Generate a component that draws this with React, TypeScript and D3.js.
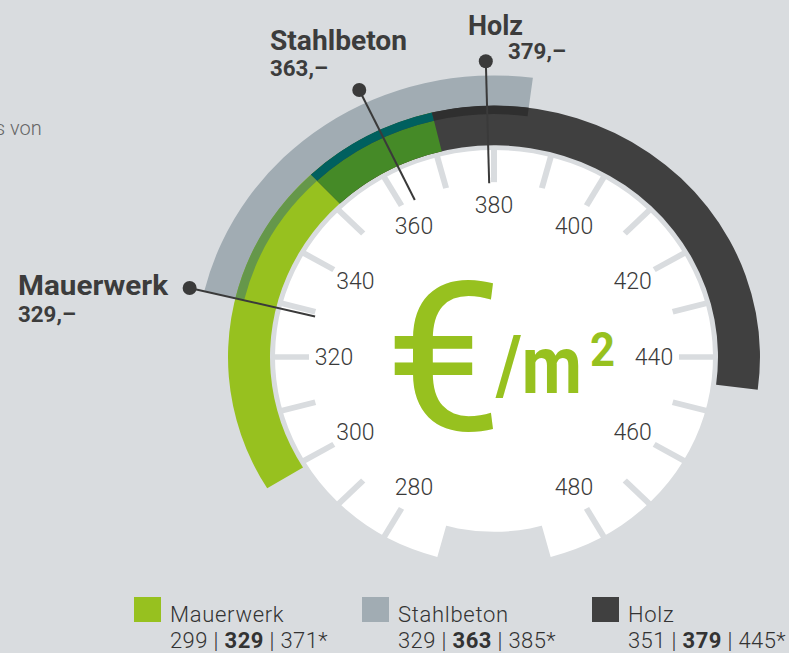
import React, { useEffect } from 'react'
import * as d3 from 'd3'

// values per building material (€/m²): low | mean | high
const materials = ['Mauerwerk', 'Stahlbeton', 'Holz']
const lowValues = [299, 329, 351]
const meanValues = [329, 363, 379]
const highValues = [371, 385, 445]
const meanLabels = ['329,–', '363,–', '379,–']
const tickValues = [280, 290, 300, 310, 320, 330, 340, 350, 360, 370, 380, 390, 400, 410, 420, 430, 440, 450, 460, 470, 480]
const tickLabels = [280, 300, 320, 340, 360, 380, 400, 420, 440, 460, 480]

const colors = {
  bg: '#d9dcdf',
  Mauerwerk: '#97c11f',
  Stahlbeton: '#a1acb3',
  Holz: '#404040',
  'Mauerwerk+Stahlbeton': '#65974a',
  'Mauerwerk+Holz': '#458a27',
  'Mauerwerk+Stahlbeton+Holz': '#00605f',
  'Stahlbeton+Holz': '#2f2f2f',
}

const W = 789
const H = 653
const cx = 494
const cy = 357
const sy = 0.945 // picture is slightly squashed vertically

// band radii: Mauerwerk + Holz share the inner band, Stahlbeton sits further out
const bandRadii = [[224, 266], [257, 298], [224, 266]]
const drawOrder = [1, 0, 2]
const diskR = 219
const tickInner = 185

const labelPos = [
  { x: 18, y: 295, w: 150, x2: 18, y2: 322, w2: 58 },
  { x: 270, y: 50, w: 137, x2: 270, y2: 76, w2: 58 },
  { x: 468, y: 35, w: 55, x2: 508, y2: 59, w2: 58 },
]
const legendX = [134, 362, 592]

const angle = d3.scaleLinear().domain([280, 480]).range([-150 * Math.PI / 180, 150 * Math.PI / 180])
const pt = (v: number, r: number) => [cx + r * Math.sin(angle(v)), cy - r * Math.cos(angle(v)) * sy]

export default function App() {
  useEffect(() => {
    document.body.style.margin = '0'
    document.body.style.background = colors.bg
  }, [])

  const arc = d3.arc<any>()

  // overlapping parts of the bands get their own colour
  const edges = Array.from(new Set([...lowValues, ...highValues])).sort((a, b) => a - b)
  const radiiEdges = Array.from(new Set(bandRadii.flat())).sort((a, b) => a - b)
  const pieces: any[] = []
  for (let i = 0; i < edges.length - 1; i++) {
    for (let j = 0; j < radiiEdges.length - 1; j++) {
      const v0 = edges[i], v1 = edges[i + 1], r0 = radiiEdges[j], r1 = radiiEdges[j + 1]
      const hit = materials.filter((m, k) =>
        lowValues[k] <= v0 && highValues[k] >= v1 && bandRadii[k][0] <= r0 && bandRadii[k][1] >= r1)
      if (hit.length < 2) continue
      pieces.push({ v0, v1, r0, r1, color: (colors as any)[hit.join('+')] })
    }
  }

  const font = 'Roboto, "DejaVu Sans", sans-serif'

  return (
    <svg width={W} height={H} style={{ position: 'absolute', left: 0, top: 0, display: 'block' }} fontFamily={font}>
      <rect width={W} height={H} fill={colors.bg} />
      <text x={-5} y={135} fontSize={20} fontWeight={300} fill="#666">s von</text>

      <g transform={`translate(${cx},${cy}) scale(1,${sy})`}>
        {drawOrder.map(k => (
          <path key={materials[k]} fill={(colors as any)[materials[k]]}
            d={arc({ innerRadius: bandRadii[k][0], outerRadius: bandRadii[k][1], startAngle: angle(lowValues[k]), endAngle: angle(highValues[k]) }) as string} />
        ))}
        {pieces.map((p, i) => (
          <path key={i} fill={p.color}
            d={arc({ innerRadius: p.r0, outerRadius: p.r1, startAngle: angle(p.v0), endAngle: angle(p.v1) }) as string} />
        ))}
        <circle r={tickInner} fill="#fff" />
        <path fill="#fff" d={arc({ innerRadius: tickInner - 1, outerRadius: diskR, startAngle: angle(270), endAngle: angle(490) }) as string} />
        {tickValues.map(v => (
          <line key={v} stroke={colors.bg} strokeWidth={6}
            x1={tickInner * Math.sin(angle(v))} y1={-tickInner * Math.cos(angle(v))}
            x2={(diskR + 1) * Math.sin(angle(v))} y2={-(diskR + 1) * Math.cos(angle(v))} />
        ))}
      </g>

      {tickLabels.map(v => {
        const [x, y] = pt(v, 160)
        return <text key={v} x={x} y={y} fontSize={23} fontWeight={300} fill="#3a3a3a"
          textAnchor="middle" dominantBaseline="central">{v}</text>
      })}

      <text x={385} y={430} fontSize={208} fill={colors.Mauerwerk} textLength={118} lengthAdjust="spacingAndGlyphs">€</text>
      <text x={496} y={393} fontSize={82} fontWeight={700} fill={colors.Mauerwerk} textLength={86} lengthAdjust="spacingAndGlyphs">/m</text>
      <text x={590} y={366} fontSize={48} fontWeight={700} fill={colors.Mauerwerk} textLength={25} lengthAdjust="spacingAndGlyphs">2</text>

      {materials.map((m, i) => {
        const [x1, y1] = pt(meanValues[i], 184)
        const [x2, y2] = pt(meanValues[i], 313)
        const lp = labelPos[i]
        return (
          <g key={m}>
            <line x1={x1} y1={y1} x2={x2} y2={y2} stroke="#3a3a3a" strokeWidth={2} />
            <circle cx={x2} cy={y2} r={7} fill="#3a3a3a" />
            <text x={lp.x} y={lp.y} fontSize={27} fontWeight={700} fill="#3c3c3c"
              textLength={lp.w} lengthAdjust="spacingAndGlyphs">{m}</text>
            <text x={lp.x2} y={lp.y2} fontSize={22} fontWeight={700} fill="#3c3c3c"
              textLength={lp.w2} lengthAdjust="spacingAndGlyphs">{meanLabels[i]}</text>
          </g>
        )
      })}

      {materials.map((m, i) => (
        <g key={'lg' + m} transform={`translate(${legendX[i]},0)`}>
          <rect x={0} y={597} width={27} height={25} fill={(colors as any)[m]} />
          <text x={36} y={622} fontSize={22} fontWeight={300} fill="#333" letterSpacing={0.7}>{m}</text>
          <text x={36} y={648} fontSize={22} fontWeight={300} fill="#333" letterSpacing={0.4}>
            {lowValues[i]} | <tspan fontWeight={700}>{meanValues[i]}</tspan> | {highValues[i]}*
          </text>
        </g>
      ))}
    </svg>
  )
}
